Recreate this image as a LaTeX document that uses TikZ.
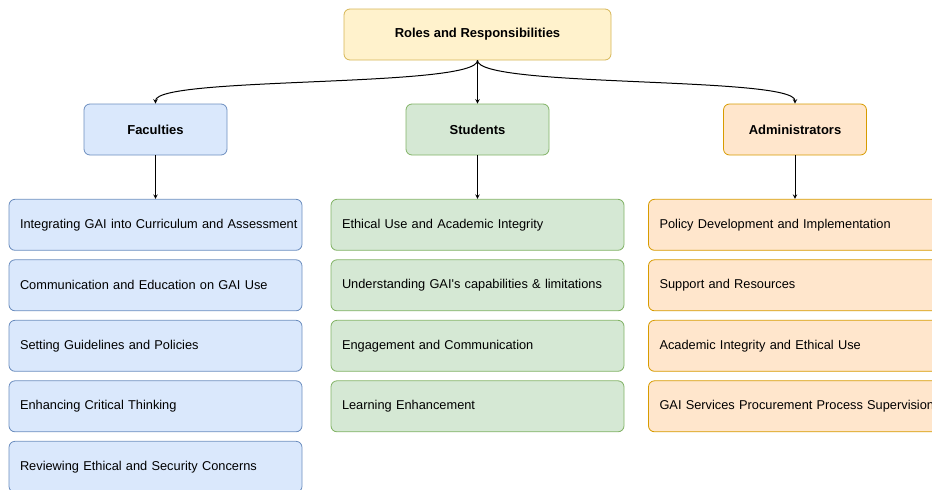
\documentclass[tikz,border=0pt]{standalone}
\usepackage{fontspec}
\setmainfont{Liberation Sans}
\usepackage{xcolor}
\usetikzlibrary{positioning,shapes}

\definecolor{topfill}{HTML}{FFF2CC}
\definecolor{topline}{HTML}{D6B656}
\definecolor{facfill}{HTML}{DAE8FC}
\definecolor{facline}{HTML}{6C8EBF}
\definecolor{stufill}{HTML}{D5E8D4}
\definecolor{stuline}{HTML}{82B366}
\definecolor{admfill}{HTML}{FFE6CC}
\definecolor{admline}{HTML}{D79B00}

\begin{document}
\begin{tikzpicture}[x=1pt,y=-1pt,->,>=stealth,line width=1pt,node distance=8.7pt,
    head node/.style={rectangle,rounded corners=6pt,draw,line width=0.8pt,minimum height=51pt,inner sep=0pt,font=\fontsize{13}{15}\selectfont\bfseries},
    item node/.style={rectangle,rounded corners=6pt,draw,line width=0.8pt,minimum height=51pt,text width=271pt,inner xsep=11pt,inner ysep=0pt,align=left,font=\fontsize{12.8}{15}\selectfont},
    fac/.style={fill=facfill,draw=facline},
    stu/.style={fill=stufill,draw=stuline},
    adm/.style={fill=admfill,draw=admline}]

    \useasboundingbox (0,0) rectangle (932,490);
    \clip (0,0) rectangle (932,490);

    % top and the three groups
    \node[head node,fill=topfill,draw=topline,minimum width=267pt] (rr) at (477.5,34.5) {Roles and Responsibilities};
    \node[head node,fac,minimum width=143pt] (fac) at (155.5,129.5) {Faculties};
    \node[head node,stu,minimum width=143pt] (stu) at (477.5,129.5) {Students};
    \node[head node,adm,minimum width=143pt] (adm) at (795,129.5) {Administrators};

    % faculties
    \node[item node,fac] (fac1) [below=43.5pt of fac] {\mbox{Integrating GAI into Curriculum and Assessment}};
    \node[item node,fac] (fac2) [below=of fac1] {Communication and Education on GAI Use};
    \node[item node,fac] (fac3) [below=of fac2] {Setting Guidelines and Policies};
    \node[item node,fac] (fac4) [below=of fac3] {Enhancing Critical Thinking};
    \node[item node,fac] (fac5) [below=of fac4] {Reviewing Ethical and Security Concerns};

    % students
    \node[item node,stu] (stu1) [below=43.5pt of stu] {Ethical Use and Academic Integrity};
    \node[item node,stu] (stu2) [below=of stu1] {\mbox{Understanding GAI\textquotesingle s capabilities \& limitations}};
    \node[item node,stu] (stu3) [below=of stu2] {Engagement and Communication};
    \node[item node,stu] (stu4) [below=of stu3] {Learning Enhancement};

    % administrators
    \node[item node,adm] (adm1) [below=43.5pt of adm] {Policy Development and Implementation};
    \node[item node,adm] (adm2) [below=of adm1] {Support and Resources};
    \node[item node,adm] (adm3) [below=of adm2] {Academic Integrity and Ethical Use};
    \node[item node,adm] (adm4) [below=of adm3] {\mbox{GAI Services Procurement Process Supervision}};

    \draw (rr.south) .. controls (477.5,88) and (155.5,76) .. (fac.north);
    \draw (rr.south) .. controls (477.5,88) and (795,76) .. (adm.north);
    \path
    (rr) edge (stu)
    (fac) edge (fac1)
    (stu) edge (stu1)
    (adm) edge (adm1)
    ;
\end{tikzpicture}
\end{document}
